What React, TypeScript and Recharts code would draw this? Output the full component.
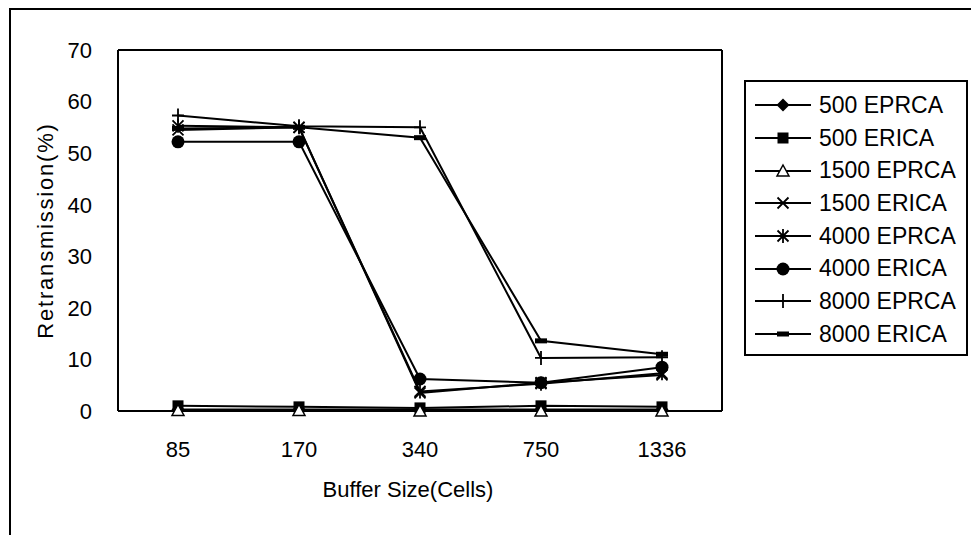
import React from "react";
import { LineChart, Line, XAxis, YAxis, Legend, CartesianGrid } from "recharts";

const bufferSizes = ["85", "170", "340", "750", "1336"];
const yTicks = [0, 10, 20, 30, 40, 50, 60, 70];

const eprca500 = [0.3, 0.3, 0.3, 0.3, 0.3];
const erica500 = [1.0, 0.8, 0.6, 1.0, 0.8];
const eprca1500 = [0.1, 0.1, 0, 0, 0];
const erica1500 = [54.5, 55, 3.5, 5.5, 7];
const eprca4000 = [55.3, 55, 3.8, 5.3, 7.3];
const erica4000 = [52.2, 52.2, 6.2, 5.5, 8.5];
const eprca8000 = [57.3, 55.2, 55, 10.3, 10.4];
const erica8000 = [54.8, 55, 53, 13.6, 11];

type Shape = "diamond" | "square" | "triangle" | "cross" | "star" | "circle" | "plus" | "dash";

const SERIES: { key: string; name: string; shape: Shape; values: number[] }[] = [
  { key: "eprca500", name: "500 EPRCA", shape: "diamond", values: eprca500 },
  { key: "erica500", name: "500 ERICA", shape: "square", values: erica500 },
  { key: "eprca1500", name: "1500 EPRCA", shape: "triangle", values: eprca1500 },
  { key: "erica1500", name: "1500 ERICA", shape: "cross", values: erica1500 },
  { key: "eprca4000", name: "4000 EPRCA", shape: "star", values: eprca4000 },
  { key: "erica4000", name: "4000 ERICA", shape: "circle", values: erica4000 },
  { key: "eprca8000", name: "8000 EPRCA", shape: "plus", values: eprca8000 },
  { key: "erica8000", name: "8000 ERICA", shape: "dash", values: erica8000 },
];

const data = bufferSizes.map((size, i) => {
  const row: Record<string, string | number> = { size };
  SERIES.forEach((s) => {
    row[s.key] = s.values[i];
  });
  return row;
});

const FONT = '"Liberation Sans", Arial, sans-serif';

function Marker({ shape, cx, cy }: { shape: Shape; cx: number; cy: number }) {
  switch (shape) {
    case "diamond":
      return (
        <polygon
          points={`${cx},${cy - 6.5} ${cx + 6.5},${cy} ${cx},${cy + 6.5} ${cx - 6.5},${cy}`}
          fill="#000"
        />
      );
    case "square":
      return <rect x={cx - 5.5} y={cy - 5.5} width={11} height={11} fill="#000" />;
    case "triangle":
      return (
        <polygon
          points={`${cx},${cy - 6} ${cx + 6},${cy + 5} ${cx - 6},${cy + 5}`}
          fill="#fff"
          stroke="#000"
          strokeWidth={1.5}
        />
      );
    case "cross":
      return (
        <path
          d={`M${cx - 5.5},${cy - 5.5}L${cx + 5.5},${cy + 5.5}M${cx + 5.5},${cy - 5.5}L${cx - 5.5},${cy + 5.5}`}
          stroke="#000"
          strokeWidth={1.8}
        />
      );
    case "star":
      return (
        <path
          d={`M${cx - 5.5},${cy - 5.5}L${cx + 5.5},${cy + 5.5}M${cx + 5.5},${cy - 5.5}L${cx - 5.5},${cy + 5.5}M${cx},${cy - 7}L${cx},${cy + 7}`}
          stroke="#000"
          strokeWidth={1.8}
        />
      );
    case "circle":
      return <circle cx={cx} cy={cy} r={6.5} fill="#000" />;
    case "plus":
      return (
        <path
          d={`M${cx},${cy - 7}L${cx},${cy + 7}M${cx - 6},${cy}L${cx + 6},${cy}`}
          stroke="#000"
          strokeWidth={1.8}
        />
      );
    case "dash":
      return <rect x={cx - 6} y={cy - 2.5} width={12} height={5} fill="#000" />;
  }
}

const makeDot = (shape: Shape) => (props: any) => {
  const { cx, cy, index } = props;
  if (cx == null || cy == null) return <g key={`${shape}-${index}`} />;
  return (
    <g key={`${shape}-${index}`}>
      <Marker shape={shape} cx={cx} cy={cy} />
    </g>
  );
};

function LegendBox() {
  return (
    <div
      style={{
        border: "2px solid #000",
        background: "#fff",
        padding: "7px 0 3px 9px",
        boxSizing: "border-box",
        width: 224,
        fontFamily: FONT,
      }}
    >
      {SERIES.map((s) => (
        <div key={s.key} style={{ display: "flex", alignItems: "center", height: 32.7 }}>
          <svg width={56} height={20} style={{ display: "block" }}>
            <line x1={0} x2={56} y1={10} y2={10} stroke="#000" strokeWidth={2} />
            <Marker shape={s.shape} cx={28} cy={10} />
          </svg>
          <span style={{ marginLeft: 8, fontSize: 23, color: "#000", whiteSpace: "nowrap" }}>
            {s.name}
          </span>
        </div>
      ))}
    </div>
  );
}

// plot frame: one line on each edge of the plotting area
const frameRows = ({ offset }: any) => [offset.top, offset.top + offset.height];
const frameCols = ({ offset }: any) => [offset.left, offset.left + offset.width];

export default function App() {
  return (
    <div
      style={{
        position: "relative",
        width: 971,
        height: 535,
        overflow: "hidden",
        background: "#fff",
        fontFamily: FONT,
      }}
    >
      <style>{"body{margin:0}"}</style>
      <div
        style={{
          position: "absolute",
          left: 9,
          top: 8,
          width: 1100,
          height: 700,
          borderLeft: "2px solid #000",
          borderTop: "2px solid #000",
        }}
      />
      <div style={{ position: "absolute", left: 0, top: 0 }}>
        <LineChart
          width={971}
          height={535}
          data={data}
          margin={{ top: 50, right: 249, bottom: 34, left: 0 }}
        >
          <CartesianGrid
            stroke="#000"
            strokeWidth={2}
            horizontalCoordinatesGenerator={frameRows}
            verticalCoordinatesGenerator={frameCols}
          />
          <XAxis
            dataKey="size"
            height={90}
            padding={{ left: 60, right: 60 }}
            tickLine={false}
            tickSize={0}
            tickMargin={30}
            axisLine={{ stroke: "#000", strokeWidth: 2 }}
            tick={{ fill: "#000", fontSize: 22, fontFamily: FONT }}
            label={{
              value: "Buffer Size(Cells)",
              position: "insideBottom",
              offset: 4,
              dx: -12,
              fill: "#000",
              fontSize: 22,
              fontFamily: FONT,
            }}
          />
          <YAxis
            width={118}
            domain={[0, 70]}
            ticks={yTicks}
            interval={0}
            tickLine={false}
            tickSize={0}
            tickMargin={26}
            axisLine={{ stroke: "#000", strokeWidth: 2 }}
            tick={{ fill: "#000", fontSize: 22, fontFamily: FONT }}
            label={{
              value: "Retransmission(%)",
              angle: -90,
              position: "insideLeft",
              offset: 45,
              fill: "#000",
              fontSize: 22,
              fontFamily: FONT,
              letterSpacing: 1.8,
              style: { textAnchor: "middle" },
            }}
          />
          {SERIES.map((s) => (
            <Line
              key={s.key}
              dataKey={s.key}
              name={s.name}
              type="linear"
              stroke="#000"
              strokeWidth={2}
              dot={makeDot(s.shape)}
              activeDot={false}
              isAnimationActive={false}
            />
          ))}
          <Legend
            layout="vertical"
            align="center"
            verticalAlign="middle"
            content={<LegendBox />}
            wrapperStyle={{ left: 744, top: 80, width: 224 }}
          />
        </LineChart>
      </div>
    </div>
  );
}
